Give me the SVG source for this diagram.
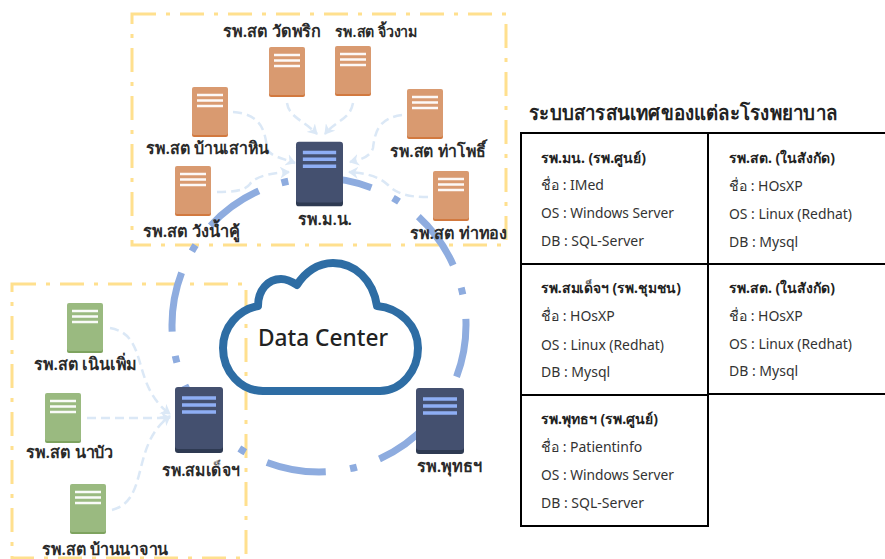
<svg xmlns="http://www.w3.org/2000/svg" width="885" height="559" viewBox="0 0 885 559">
<style>
text{font-family:"Noto Sans","Open Sans","DejaVu Sans",sans-serif;fill:#222}
.lb{font-size:16.500px;font-weight:600;fill:#2a2a2a}
.c{fill:none;stroke:#dbe8f6;stroke-width:2.500;stroke-dasharray:9 5;marker-end:url(#a)}
.y{fill:none;stroke:#ffe08e;stroke-width:3;stroke-dasharray:24 10 4 10}
.t{font-size:14px;fill:#333}
.h{font-size:14px;font-weight:700;fill:#222}
.ln{stroke:#000;stroke-width:2;fill:none}
</style>
<defs>
<marker id="a" markerUnits="userSpaceOnUse" markerWidth="12" markerHeight="12" refX="9" refY="6" orient="auto"><path d="M0 0L10 6L0 12L3 6Z" fill="#dbe8f6"/></marker>
<symbol id="o" viewBox="0 0 36 50" overflow="visible"><rect y="2" width="36" height="48" rx="2" fill="#d2793f"/><rect width="36" height="48" rx="2" fill="#d99a70"/><path d="M5 8H31M5 13.500H31M5 19H31" stroke="#fff" stroke-width="2.500" opacity=".95"/></symbol>
<symbol id="g" viewBox="0 0 36 50" overflow="visible"><rect y="2" width="36" height="48" rx="2" fill="#7ea35f"/><rect width="36" height="48" rx="2" fill="#9aba80"/><path d="M5 8H31M5 13.500H31M5 19H31" stroke="#fff" stroke-width="2.500" opacity=".95"/></symbol>
<symbol id="n" viewBox="0 0 48 66" overflow="visible"><rect y="3" width="48" height="63" rx="3" fill="#2e3a52"/><rect width="48" height="62" rx="3" fill="#44506f"/><path d="M7 11H41M7 18H41M7 25H41" stroke="#8eaef5" stroke-width="3.500"/></symbol>
</defs>
<rect width="885" height="559" fill="#fff"/>
<rect class="y" x="132" y="14" width="374" height="231"/>
<rect class="y" x="12" y="284" width="234" height="274"/>
<g id="connectors">
<circle cx="319" cy="325" r="147" fill="none" stroke="#8eacdf" stroke-width="7" stroke-dasharray="60 24 7 24.500" stroke-dashoffset="7"/>
<path class="c" d="M287 103C289 117 303 120 317 134"/>
<path class="c" d="M353 103C350 120 336 120 325 134"/>
<path class="c" d="M233 112C262 114 265 132 267 148C269 156 282 158 295 163"/>
<path class="c" d="M402 115C380 118 375 130 373 148C370 158 358 160 350 162"/>
<path class="c" d="M217 192C232 192 245 191 250 184C256 175 275 173 289 172"/>
<path class="c" d="M428 197C410 197 398 195 388 185C378 175 362 173 349 172"/>
<path class="c" d="M110 328C150 335 130 385 170 414"/>
<path class="c" d="M87 418H170"/>
<path class="c" d="M112 510C150 500 130 445 170 416"/>
</g>
<g id="cloud"><path d="M263 391H380C402 391 418 370 418 348C418 326 400 308 377 306C373 280 355 263 333 263C318 263 305 272 297 285C291 281 287 279 281 279C268 279 258 290 258 306C238 310 223 327 223 348C223 372 241 391 263 391Z" fill="none" stroke="#2e6da4" stroke-width="8" stroke-linejoin="round"/><text x="258" y="346" textLength="130" lengthAdjust="spacingAndGlyphs" style="font-size:23px;font-weight:500">Data Center</text></g>
<g id="n1"><use href="#o" x="269" y="47" width="36" height="50"/><text class="lb" x="223" y="37" textLength="98" lengthAdjust="spacingAndGlyphs">รพ.สต วัดพริก</text></g>
<g id="n2"><use href="#o" x="335" y="46" width="36" height="50"/><text class="lb" style="font-size:14.500px" x="335" y="37" textLength="83" lengthAdjust="spacingAndGlyphs">รพ.สต จิ้วงาม</text></g>
<g id="n3"><use href="#o" x="192" y="87" width="36" height="50"/><text class="lb" x="146" y="154" textLength="123" lengthAdjust="spacingAndGlyphs">รพ.สต บ้านเสาหิน</text></g>
<g id="n4"><use href="#o" x="407" y="89" width="36" height="50"/><text class="lb" x="390" y="157" textLength="96" lengthAdjust="spacingAndGlyphs">รพ.สต ท่าโพธิ์</text></g>
<g id="n5"><use href="#o" x="175" y="166" width="36" height="50"/><text class="lb" x="143" y="237" textLength="97" lengthAdjust="spacingAndGlyphs">รพ.สต วังน้ำคู้</text></g>
<g id="n6"><use href="#o" x="433" y="171" width="36" height="50"/><text class="lb" x="410" y="239" textLength="97" lengthAdjust="spacingAndGlyphs">รพ.สต ท่าทอง</text></g>
<g id="n7"><use href="#n" x="296" y="141" width="47" height="66"/><text class="lb" x="298" y="225" textLength="54" lengthAdjust="spacingAndGlyphs">รพ.ม.น.</text></g>
<g id="n8"><use href="#g" x="67" y="303" width="36" height="50"/><text class="lb" x="34" y="370" textLength="103" lengthAdjust="spacingAndGlyphs">รพ.สต เนินเพิ่ม</text></g>
<g id="n9"><use href="#g" x="45" y="393" width="36" height="50"/><text class="lb" x="26" y="458" textLength="87" lengthAdjust="spacingAndGlyphs">รพ.สต นาบัว</text></g>
<g id="n10"><use href="#g" x="70" y="484" width="36" height="50"/><text class="lb" x="42" y="555" textLength="126" lengthAdjust="spacingAndGlyphs">รพ.สต บ้านนาจาน</text></g>
<g id="n11"><use href="#n" x="175" y="387" width="48" height="66"/><text class="lb" x="162" y="476" textLength="78" lengthAdjust="spacingAndGlyphs">รพ.สมเด็จฯ</text></g>
<g id="n12"><use href="#n" x="416" y="388" width="48" height="66"/><text class="lb" x="417" y="472" textLength="65" lengthAdjust="spacingAndGlyphs">รพ.พุทธฯ</text></g>
<g id="info">
<text x="529" y="120" textLength="308" lengthAdjust="spacingAndGlyphs" style="font-size:20px;font-weight:600">ระบบสารสนเทศของแต่ละโรงพยาบาล</text>
<path class="ln" d="M885 133H521V526H708V133M521 264H885M521 395H708M708 394H885"/>
<text class="h" x="541" y="163">รพ.มน. (รพ.ศูนย์)</text><text class="t" x="541" y="190">ชื่อ : IMed</text><text class="t" x="541" y="218" textLength="133" lengthAdjust="spacingAndGlyphs">OS : Windows Server</text><text class="t" x="541" y="246">DB : SQL-Server</text>
<text class="h" x="729" y="163">รพ.สต. (ในสังกัด)</text><text class="t" x="729" y="191">ชื่อ : HOsXP</text><text class="t" x="729" y="219" textLength="123" lengthAdjust="spacingAndGlyphs">OS : Linux (Redhat)</text><text class="t" x="729" y="247">DB : Mysql</text>
<text class="h" x="541" y="293" textLength="140" lengthAdjust="spacingAndGlyphs">รพ.สมเด็จฯ (รพ.ชุมชน)</text><text class="t" x="541" y="321">ชื่อ : HOsXP</text><text class="t" x="541" y="350" textLength="123" lengthAdjust="spacingAndGlyphs">OS : Linux (Redhat)</text><text class="t" x="541" y="377">DB : Mysql</text>
<text class="h" x="729" y="293">รพ.สต. (ในสังกัด)</text><text class="t" x="729" y="321">ชื่อ : HOsXP</text><text class="t" x="729" y="349" textLength="123" lengthAdjust="spacingAndGlyphs">OS : Linux (Redhat)</text><text class="t" x="729" y="376">DB : Mysql</text>
<text class="h" x="541" y="424">รพ.พุทธฯ (รพ.ศูนย์)</text><text class="t" x="541" y="452">ชื่อ : Patientinfo</text><text class="t" x="541" y="480" textLength="133" lengthAdjust="spacingAndGlyphs">OS : Windows Server</text><text class="t" x="541" y="508">DB : SQL-Server</text>
</g>
</svg>
